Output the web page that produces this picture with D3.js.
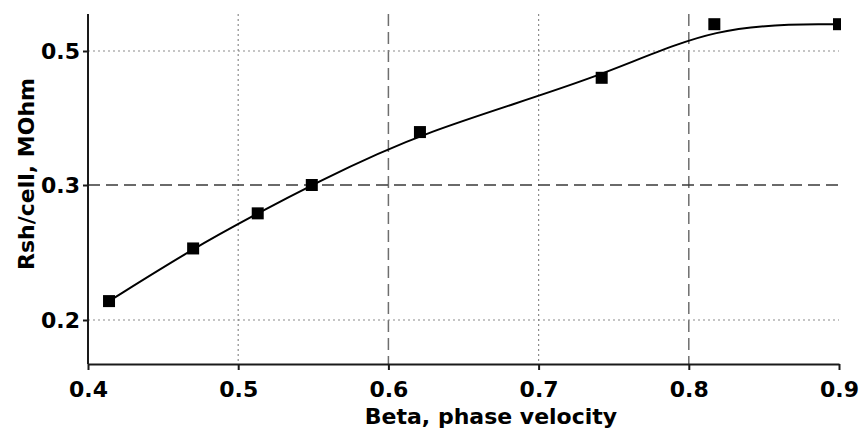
<!DOCTYPE html>
<html>
<head>
<meta charset="utf-8">
<script src="https://cdn.jsdelivr.net/npm/d3@7/dist/d3.min.js"></script>
<style>
  html, body { margin: 0; padding: 0; background: #fff; }
  svg { display: block; }
  text { font-family: "DejaVu Sans", Verdana, sans-serif; font-weight: bold; fill: #000; }
</style>
</head>
<body>
<svg id="chart" width="861" height="431"></svg>
<script>
// Shunt impedance per cell versus phase velocity
const beta = [0.414, 0.470, 0.513, 0.549, 0.621, 0.742, 0.817, 0.900];
const rsh  = [0.214, 0.253, 0.279, 0.300, 0.379, 0.460, 0.540, 0.540];

const xTicks = [0.4, 0.5, 0.6, 0.7, 0.8, 0.9];
const yTicks = [0.2, 0.3, 0.5];
const xDashed = [0.6, 0.8];
const xDotted = [0.5, 0.7];
const yDashed = [0.3];
const yDotted = [0.2, 0.5];

const xTitle = "Beta, phase velocity";
const yTitle = "Rsh/cell, MOhm";

const svg = d3.select("#chart");
const plotLeft = 88, plotRight = 839, plotTop = 14, plotBottom = 364;

const x = d3.scaleLinear().domain([0.4, 0.9]).range([plotLeft, plotRight]);
// value axis is spaced evenly between its labelled levels
const y = d3.scaleLinear().domain([0.2, 0.3, 0.5]).range([320, 185, 51]);

const grid = svg.append("g");
grid.selectAll(".vdot").data(xDotted).join("line")
  .attr("x1", d => x(d)).attr("x2", d => x(d)).attr("y1", plotTop).attr("y2", plotBottom)
  .attr("stroke", "#8c8c8c").attr("stroke-width", 1.2).attr("stroke-dasharray", "2,3");
grid.selectAll(".vdash").data(xDashed).join("line")
  .attr("x1", d => x(d)).attr("x2", d => x(d)).attr("y1", plotTop).attr("y2", plotBottom)
  .attr("stroke", "#6e6e6e").attr("stroke-width", 1.5).attr("stroke-dasharray", "12,6");
grid.selectAll(".hdot").data(yDotted).join("line")
  .attr("x1", plotLeft).attr("x2", plotRight).attr("y1", d => y(d)).attr("y2", d => y(d))
  .attr("stroke", "#8c8c8c").attr("stroke-width", 1.2).attr("stroke-dasharray", "2,3");
grid.selectAll(".hdash").data(yDashed).join("line")
  .attr("x1", plotLeft).attr("x2", plotRight).attr("y1", d => y(d)).attr("y2", d => y(d))
  .attr("stroke", "#3a3a3a").attr("stroke-width", 1.5).attr("stroke-dasharray", "12,6");

// axes
const xAxis = svg.append("g").attr("transform", `translate(0,${plotBottom})`)
  .call(d3.axisBottom(x).tickValues(xTicks).tickFormat(d3.format(".1f")).tickSize(6).tickSizeOuter(0));
const yAxis = svg.append("g").attr("transform", `translate(${plotLeft},0)`)
  .call(d3.axisLeft(y).tickValues(yTicks).tickFormat(d3.format(".1f")).tickSize(5).tickSizeOuter(0));
yAxis.select(".domain").attr("d", `M0,${plotTop}V${plotBottom}`);
[xAxis, yAxis].forEach(a => {
  a.select(".domain").attr("stroke", "#1a1a1a").attr("stroke-width", 2);
  a.selectAll(".tick line").attr("stroke", "#1a1a1a").attr("stroke-width", 2);
  a.selectAll(".tick text").style("font-size", "22px").style("font-family", "DejaVu Sans, sans-serif")
    .style("font-weight", "bold").attr("fill", "#000");
});
xAxis.selectAll(".tick text").attr("dy", "1.09em");
yAxis.selectAll(".tick text").attr("x", -8);

// fitted curve and measured points
svg.append("clipPath").attr("id", "plotclip").append("rect")
  .attr("x", 0).attr("y", 0).attr("width", plotRight + 2).attr("height", plotBottom);

const pts = beta.map((b, i) => [b, rsh[i]]);
svg.append("path").datum(pts)
  .attr("fill", "none").attr("stroke", "#000").attr("stroke-width", 2)
  .attr("d", d3.line().x(d => x(d[0])).y(d => y(d[1])).curve(d3.curveBasis));

const s = 12;
svg.append("g").attr("clip-path", "url(#plotclip)")
  .selectAll("rect").data(pts).join("rect")
  .attr("x", d => x(d[0]) - s / 2).attr("y", d => y(d[1]) - s / 2)
  .attr("width", s).attr("height", s).attr("fill", "#000");

// titles
svg.append("text").attr("x", 491).attr("y", 424).attr("text-anchor", "middle")
  .style("font-size", "22px").text(xTitle);
svg.append("text").attr("transform", `translate(34,174) rotate(-90)`).attr("text-anchor", "middle")
  .style("font-size", "22px").text(yTitle);
</script>
</body>
</html>
